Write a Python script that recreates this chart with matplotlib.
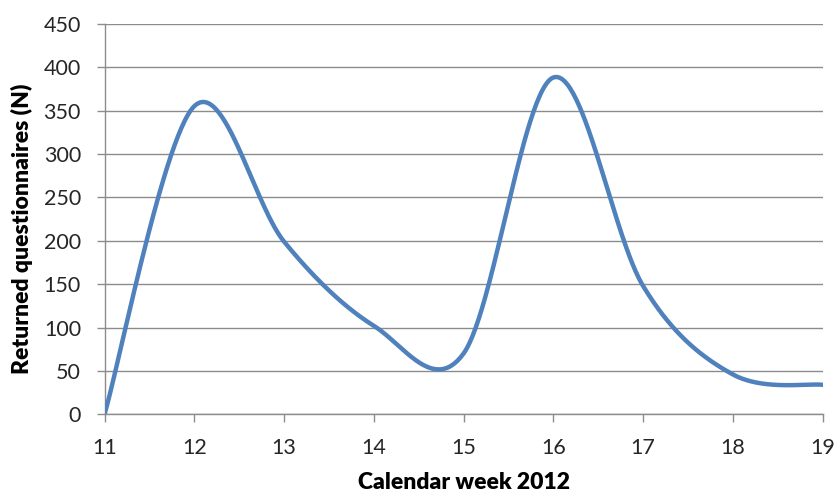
import numpy as np
import matplotlib.pyplot as plt

weeks = [11, 12, 13, 14, 15, 16, 17, 18, 19]
returned = [0, 355, 199, 102, 70, 388, 148, 46, 34]


def smooth_line(xs, ys, n=60):
    # Catmull-Rom style smoothing, like a spreadsheet "smoothed line"
    xs = np.asarray(xs, float)
    ys = np.asarray(ys, float)
    px = np.concatenate([[xs[0]], xs, [xs[-1]]])
    py = np.concatenate([[ys[0]], ys, [ys[-1]]])
    out_x, out_y = [], []
    t = np.linspace(0, 1, n)
    for i in range(1, len(px) - 2):
        x0, x1, x2, x3 = px[i - 1:i + 3]
        y0, y1, y2, y3 = py[i - 1:i + 3]
        c1x, c1y = x1 + (x2 - x0) / 6, y1 + (y2 - y0) / 6
        c2x, c2y = x2 - (x3 - x1) / 6, y2 - (y3 - y1) / 6
        bx = (1 - t) ** 3 * x1 + 3 * (1 - t) ** 2 * t * c1x + 3 * (1 - t) * t ** 2 * c2x + t ** 3 * x2
        by = (1 - t) ** 3 * y1 + 3 * (1 - t) ** 2 * t * c1y + 3 * (1 - t) * t ** 2 * c2y + t ** 3 * y2
        out_x.extend(bx)
        out_y.extend(by)
    return out_x, out_y


plt.rcParams['font.family'] = ['Lato', 'DejaVu Sans']

fig = plt.figure(figsize=(8.37, 4.94), dpi=100)
ax = fig.add_axes([0.1249, 0.1613, 0.8578, 0.7907])

sx, sy = smooth_line(weeks, returned)
ax.plot(sx, sy, color='#4F81BD', linewidth=3.2, solid_capstyle='round', zorder=3)

ax.set_xlim(11, 19)
ax.set_ylim(0, 450)
ax.set_xticks(weeks)
ax.set_yticks(range(0, 451, 50))
ax.yaxis.grid(True, color='#8c8c8c', linewidth=1)
ax.set_axisbelow(True)

for side in ['top', 'right']:
    ax.spines[side].set_visible(False)
for side in ['left', 'bottom']:
    ax.spines[side].set_color('#8c8c8c')
    ax.spines[side].set_linewidth(1)

ax.tick_params(axis='both', colors='#8c8c8c', length=6, width=1, labelsize=15.5, labelcolor='#262626')
ax.tick_params(axis='x', pad=11)
ax.tick_params(axis='y', pad=11)

ax.set_xlabel('Calendar week 2012', fontsize=16.5, fontweight='heavy', color='#000000', labelpad=10)
ax.set_ylabel('Returned questionnaires (N)', fontsize=16.5, fontweight='heavy', color='#000000')
ax.yaxis.set_label_coords(-0.099, 0.474)

fig.savefig('out.png', dpi=100)
